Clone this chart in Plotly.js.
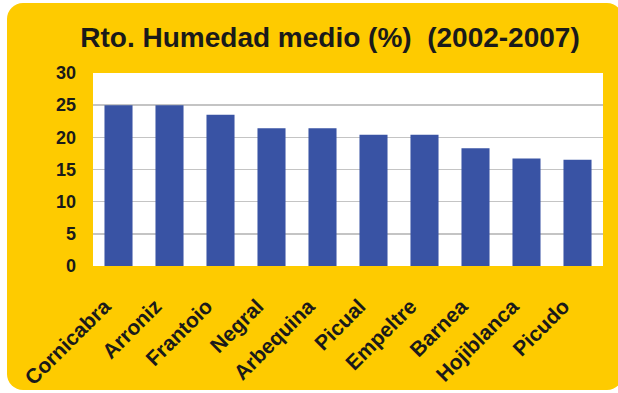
<!DOCTYPE html>
<html>
<head>
<meta charset="utf-8">
<script src="https://cdn.plot.ly/plotly-3.0.1.min.js"></script>
<style>
  html, body { margin: 0; padding: 0; background: #ffffff; width: 618px; height: 393px; overflow: hidden; }
  #frame { position: absolute; left: 7px; top: 3px; width: 616px; height: 387px; border-radius: 16px; overflow: hidden; }
  #chart { position: absolute; left: -7px; top: -3px; width: 618px; height: 393px; }
</style>
</head>
<body>
<div id="frame"><div id="chart"></div></div>
<script>
const categories = ["Cornicabra", "Arroniz", "Frantoio", "Negral", "Arbequina", "Picual", "Empeltre", "Barnea", "Hojiblanca", "Picudo"];
const values = [25.0, 25.0, 23.5, 21.4, 21.4, 20.4, 20.4, 18.3, 16.7, 16.5];
const yTicks = [0, 5, 10, 15, 20, 25, 30];
const titleText = "Rto. Humedad medio (%)  (2002-2007)";

const font = "Liberation Sans, Arial, sans-serif";

Plotly.newPlot("chart", [{
  type: "bar",
  x: categories,
  y: values,
  marker: { color: "#3953a4" },
  hoverinfo: "x+y"
}], {
  width: 618,
  height: 393,
  margin: { l: 93, r: 15, t: 73, b: 127 },
  paper_bgcolor: "#fecb00",
  plot_bgcolor: "#ffffff",
  bargap: 0.45,
  showlegend: false,
  title: {
    text: "<b>" + titleText + "</b>",
    font: { family: font, size: 28, color: "#1a1a1a" },
    x: 0.534, xref: "container", xanchor: "center",
    y: 0.905, yref: "container", yanchor: "middle"
  },
  xaxis: {
    type: "category",
    tickangle: -45,
    tickfont: { family: font, size: 21, color: "#1a1a1a", weight: "bold" },
    showgrid: false,
    showline: false,
    ticks: "",
    ticklabelstandoff: 23,
    ticklabelshift: -14,
    fixedrange: true
  },
  yaxis: {
    range: [0, 30],
    tickvals: yTicks,
    ticktext: yTicks.map(String),
    tickfont: { family: font, size: 18, color: "#1a1a1a", weight: "bold" },
    showgrid: true,
    gridcolor: "#c4c4c4",
    gridwidth: 1.5,
    zeroline: false,
    showline: false,
    ticks: "",
    ticklabelstandoff: 16,
    fixedrange: true
  }
}, { displayModeBar: false, staticPlot: true });
</script>
</body>
</html>
